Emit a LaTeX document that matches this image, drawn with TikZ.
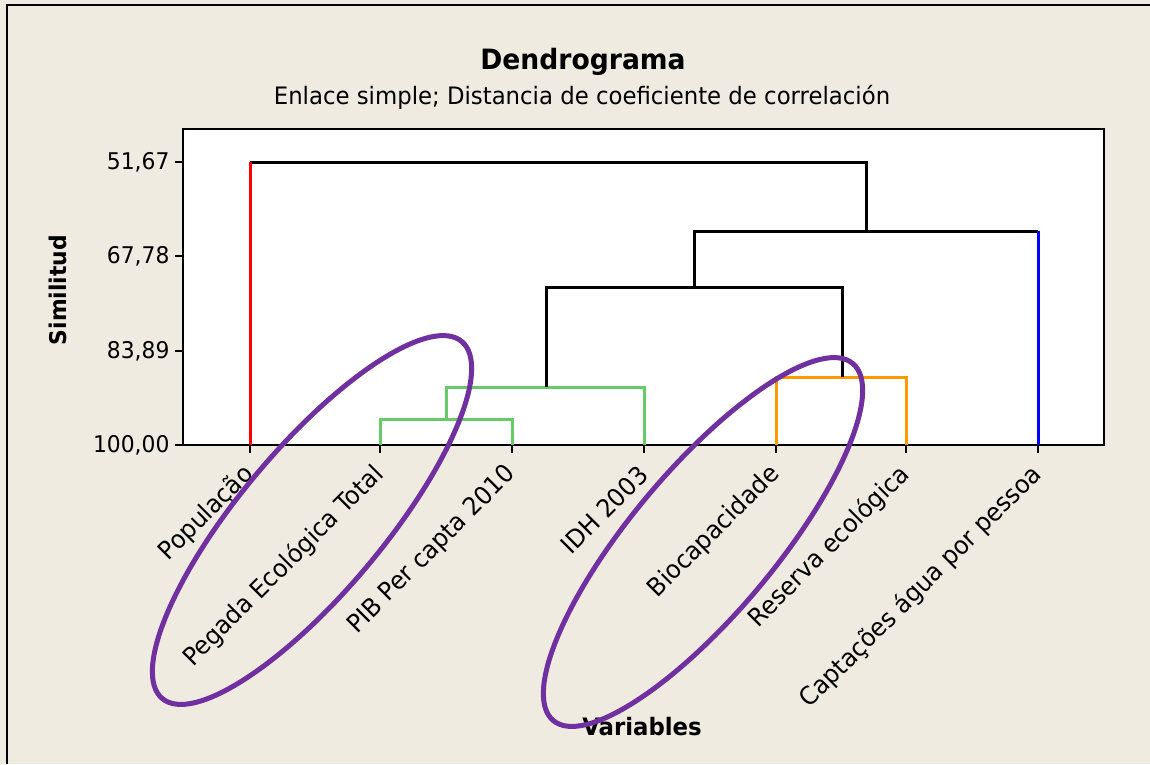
\documentclass[tikz,border=0pt]{standalone}
\usepackage{fontspec}
\setmainfont{DejaVu Sans}[FakeStretch=0.95]
\usetikzlibrary{calc}
\definecolor{bgbeige}{RGB}{239,235,224}
\definecolor{lvgreen}{RGB}{102,204,102}
\definecolor{lvorange}{RGB}{255,153,0}
\definecolor{lvpurple}{RGB}{112,48,160}

\begin{document}
\begin{tikzpicture}[x=1pt,y=1pt,
  dendro/.style={line width=3pt},
  axtick/.style={line width=1.6pt},
  ring/.style={lvpurple,line width=5pt},
  lab/.style={font=\fontsize{25}{28}\selectfont,rotate=45,anchor=east}]

\useasboundingbox (0,0) rectangle (1150,-764);
\fill[bgbeige] (0,0) rectangle (1150,-764);
\draw[line width=2.5pt] (7,-764) -- (7,-5) -- (1150,-5);
\draw[line width=1.5pt,fill=white] (183,-129) rectangle (1104,-445);

\node (title) at (583,-62) {\fontsize{28}{32}\selectfont\bfseries Dendrograma};
\node (sub) at (582,-97) {\fontsize{24}{28}\selectfont Enlace simple; Distancia de coeficiente de correlación};
\node[rotate=90] (ylab) at (58,-290) {\fontsize{23}{26}\selectfont\bfseries Similitud};
\node (xlab) at (642,-727) {\fontsize{24}{26}\selectfont\bfseries Variables};

\foreach \lbl/\y in {{51,67}/162,{67,78}/256,{83,89}/351,{100,00}/445} {
  \draw[axtick] (175,-\y) -- (183,-\y);
  \node[anchor=east,font=\fontsize{23}{26}\selectfont] (yt\y) at (173,-\y) {\lbl};
}
\foreach \x in {250,380,512,644,776,906,1038}
  \draw[axtick] (\x,-445) -- (\x,-453);

\coordinate (pop) at (250,-445);
\coordinate (peg) at (380,-445);
\coordinate (pib) at (512,-445);
\coordinate (idh) at (644,-445);
\coordinate (bio) at (776,-445);
\coordinate (res) at (906,-445);
\coordinate (cap) at (1038,-445);

\coordinate (m1) at (446,-419);
\coordinate (m2) at (546,-387);
\coordinate (m3) at (842,-377);
\coordinate (m4) at (694,-287);
\coordinate (m5) at (866,-231);
\coordinate (m6) at (558,-162);

\draw[dendro,lvgreen] (peg) |- (m1) -| (pib);
\draw[dendro,lvgreen] (m1) |- (m2) -| (idh);
\draw[dendro,lvorange] (bio) |- (m3) -| (res);
\draw[dendro] (m2) |- (m4) -| (m3);
\draw[dendro] (m4) |- (m5) -- (m5 -| cap);
\draw[dendro,blue] (cap) -- (cap |- m5);
\draw[dendro] (m5) |- (m6) -- (m6 -| pop);
\draw[dendro,red] (pop) -- (pop |- m6);

\node[lab] (l1) at (252,-468) {População};
\node[lab] (l2) at (382,-468) {Pegada Ecológica Total};
\node[lab] (l3) at (514,-468) {PIB Per capta 2010};
\node[lab] (l4) at (646,-468) {IDH 2003};
\node[lab] (l5) at (778,-468) {Biocapacidade};
\node[lab] (l6) at (908,-468) {Reserva ecológica};
\node[lab] (l7) at (1040,-468) {Captações água por pessoa};

\draw[ring,rotate around={50:(312,-520)}] (312,-520) ellipse (233 and 72);
\draw[ring,rotate around={50:(703,-542)}] (703,-542) ellipse (233 and 72);
\end{tikzpicture}
\end{document}
